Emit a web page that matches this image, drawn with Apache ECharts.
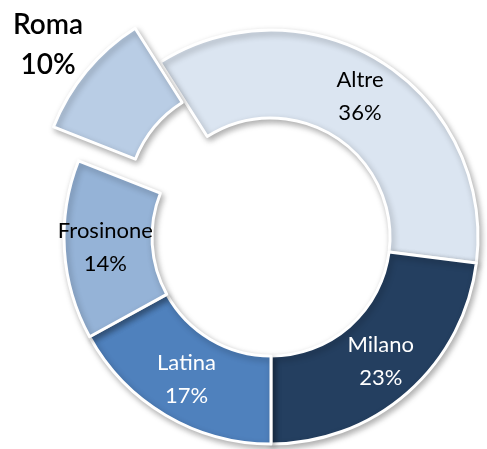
<!DOCTYPE html>
<html>
<head>
<meta charset="utf-8">
<script src="https://cdn.jsdelivr.net/npm/echarts@6/dist/echarts.min.js"></script>
<style>
  html, body { margin: 0; padding: 0; background: #fff; }
  #chart { width: 487px; height: 449px; }
</style>
</head>
<body>
<div id="chart"></div>
<script>
// dati (percentuali)
var categories = ['Altre', 'Milano', 'Latina', 'Frosinone', 'Roma'];
var values = [36, 23, 17, 14, 10];
var sliceColors = ['#dbe5f1', '#243f60', '#4f81bd', '#95b3d7', '#b9cde5'];
var labelColors = ['#000', '#fff', '#fff', '#000', '#000'];
var explodedIndex = 4; // Roma, staccata dalla torta

var chart = echarts.init(document.getElementById('chart'));

var baseItem = {
  borderColor: '#fff',
  borderWidth: 3,
  shadowBlur: 6,
  shadowOffsetX: 2,
  shadowOffsetY: 3,
  shadowColor: 'rgba(0,0,0,0.3)'
};

// anello principale, senza la fetta staccata
var mainData = categories.map(function (name, i) {
  var hidden = i === explodedIndex;
  return {
    name: name,
    value: values[i],
    itemStyle: hidden ? { opacity: 0 } : { color: sliceColors[i] },
    label: { show: !hidden, color: labelColors[i] }
  };
});

// solo la fetta staccata, con centro spostato
var explodedData = categories.map(function (name, i) {
  var shown = i === explodedIndex;
  return {
    name: name,
    value: values[i],
    itemStyle: shown ? { color: sliceColors[i] } : { opacity: 0 },
    label: { show: shown }
  };
});

var option = {
  animation: false,
  series: [
    {
      type: 'pie',
      center: [271, 237],
      radius: [119, 207],
      startAngle: 122.4,
      clockwise: true,
      avoidLabelOverlap: false,
      silent: true,
      itemStyle: baseItem,
      label: {
        position: 'inside',
        formatter: '{b}\n{c}%',
        fontFamily: 'Lato',
        fontSize: 22,
        lineHeight: 33
      },
      labelLine: { show: false },
      data: mainData
    },
    {
      type: 'pie',
      center: [246, 203],
      radius: [119, 207],
      startAngle: 122.4,
      clockwise: true,
      avoidLabelOverlap: false,
      silent: true,
      itemStyle: baseItem,
      label: {
        position: 'outside',
        formatter: '{b}\n{c}%',
        fontFamily: 'Lato',
        fontWeight: 600,
        fontSize: 28,
        lineHeight: 40,
        color: '#000'
      },
      labelLine: { show: false },
      labelLayout: function () {
        return { x: 48, y: 45, align: 'center', verticalAlign: 'middle' };
      },
      data: explodedData
    }
  ]
};

option && chart.setOption(option);
</script>
</body>
</html>
